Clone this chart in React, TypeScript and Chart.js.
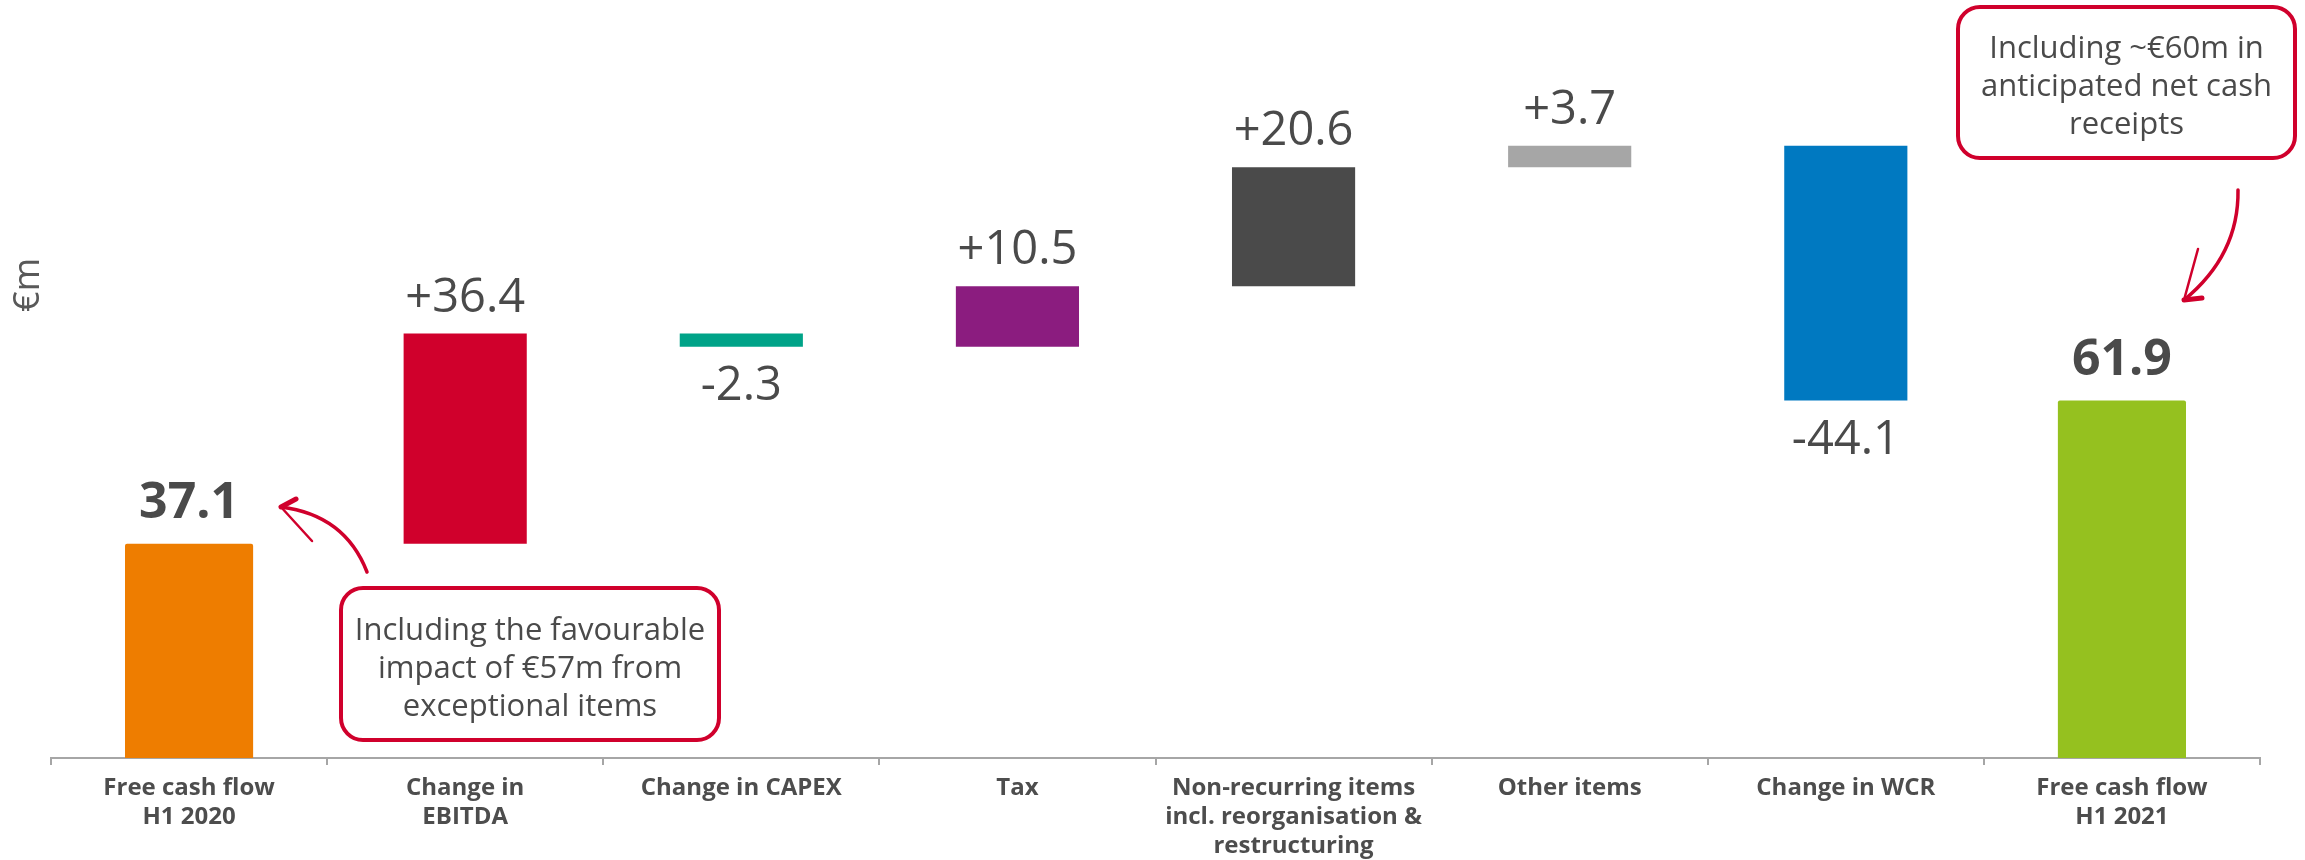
import React, { useEffect, useRef } from "react";
import { Chart, registerables } from "chart.js";

Chart.register(...registerables);

// ---------- data ----------
const categories: (string | string[])[] = [
  ["Free cash flow", "H1 2020"],
  ["Change in", "EBITDA"],
  "Change in CAPEX",
  "Tax",
  ["Non-recurring items", "incl. reorganisation &", "restructuring"],
  "Other items",
  "Change in WCR",
  ["Free cash flow", "H1 2021"],
];
const startTotal = 37.1;
const endTotal = 61.9;
const deltas = [36.4, -2.3, 10.5, 20.6, 3.7, -44.1];
const barColors = ["#EE7D00", "#D0002C", "#00A388", "#8B1C7F", "#4A4A4A", "#A6A6A6", "#0079C1", "#95C11F"];
const yAxisTitle = "€m";
const note1 = ["Including the favourable", "impact of €57m from", "exceptional items"];
const note2 = ["Including ~€60m in", "anticipated net cash", "receipts"];

// build datasets from the values
const totalsData: (number | null)[] = categories.map(() => null);
totalsData[0] = startTotal;
totalsData[categories.length - 1] = endTotal;
const deltaData: ([number, number] | null)[] = [null];
{
  let run = startTotal;
  for (const d of deltas) {
    const next = Math.round((run + d) * 10) / 10;
    deltaData.push([run, next]);
    run = next;
  }
}
deltaData.push(null);

const TEXT = "#4a4a4a";
const RED = "#D0002C";

const annotations = {
  id: "annotations",
  afterDatasetsDraw(chart: any) {
    const ctx = chart.ctx as CanvasRenderingContext2D;
    ctx.save();
    // totals labels
    const m0 = chart.getDatasetMeta(0);
    ctx.fillStyle = TEXT;
    ctx.textAlign = "center";
    ctx.textBaseline = "alphabetic";
    ctx.font = "bold 50px 'Open Sans'";
    totalsData.forEach((v, i) => {
      if (v == null) return;
      const el = m0.data[i];
      ctx.fillText(v.toFixed(1), el.x, el.y - 26);
    });
    // delta labels
    const m1 = chart.getDatasetMeta(1);
    ctx.font = "47px 'Open Sans'";
    deltas.forEach((d, k) => {
      const el = m1.data[k + 1];
      const top = Math.min(el.y, el.base);
      const bottom = Math.max(el.y, el.base);
      const txt = (d > 0 ? "+" : "") + d.toFixed(1);
      if (d > 0) ctx.fillText(txt, el.x, top - 22);
      else ctx.fillText(txt, el.x, bottom + 19 + 34);
    });

    // y axis title
    ctx.save();
    ctx.translate(29, 285);
    ctx.rotate(-Math.PI / 2);
    ctx.font = "36px 'Open Sans'";
    ctx.fillStyle = "#595959";
    ctx.textBaseline = "middle";
    ctx.fillText(yAxisTitle, 0, 0);
    ctx.restore();

    // note boxes
    const drawBox = (x: number, y: number, w: number, h: number, lines: string[], baseline0: number) => {
      ctx.beginPath();
      ctx.roundRect(x, y, w, h, 22);
      ctx.fillStyle = "#ffffff";
      ctx.fill();
      ctx.lineWidth = 4;
      ctx.strokeStyle = RED;
      ctx.stroke();
      ctx.fillStyle = TEXT;
      ctx.font = "31px 'Open Sans'";
      ctx.textAlign = "center";
      ctx.textBaseline = "alphabetic";
      lines.forEach((l, i) => ctx.fillText(l, x + w / 2, baseline0 + i * 38));
    };
    drawBox(341, 588, 378, 152, note1, 640);
    drawBox(1958, 7, 337, 151, note2, 58);

    // arrows
    ctx.strokeStyle = RED;
    ctx.lineCap = "round";
    ctx.lineWidth = 3.5;
    ctx.beginPath();
    ctx.moveTo(367, 572);
    ctx.quadraticCurveTo(345, 515, 281, 507);
    ctx.stroke();
    ctx.lineWidth = 5;
    ctx.beginPath();
    ctx.moveTo(281, 507);
    ctx.lineTo(296, 499);
    ctx.stroke();
    ctx.lineWidth = 2.5;
    ctx.beginPath();
    ctx.moveTo(281, 507);
    ctx.lineTo(312, 541);
    ctx.stroke();

    ctx.lineWidth = 3.5;
    ctx.beginPath();
    ctx.moveTo(2238, 190);
    ctx.quadraticCurveTo(2239, 255, 2184, 300);
    ctx.stroke();
    ctx.lineWidth = 2.5;
    ctx.beginPath();
    ctx.moveTo(2184, 300);
    ctx.lineTo(2198, 249);
    ctx.stroke();
    ctx.lineWidth = 5;
    ctx.beginPath();
    ctx.moveTo(2184, 300);
    ctx.lineTo(2202, 298);
    ctx.stroke();
    ctx.restore();
  },
};

export default function App() {
  const ref = useRef<HTMLCanvasElement | null>(null);
  useEffect(() => {
    document.body.style.margin = "0";
    const chart = new Chart(ref.current!, {
      type: "bar",
      data: {
        labels: categories,
        datasets: [
          {
            data: totalsData as any,
            backgroundColor: barColors,
            barPercentage: 0.464,
            categoryPercentage: 1,
            grouped: false,
            borderRadius: 2,
          } as any,
          {
            data: deltaData as any,
            backgroundColor: barColors,
            barPercentage: 0.446,
            categoryPercentage: 1,
            grouped: false,
          } as any,
        ],
      },
      options: {
        animation: false,
        responsive: false,
        layout: { padding: { left: 51, right: 45, top: 65, bottom: 0 } },
        plugins: { legend: { display: false }, tooltip: { enabled: false } },
        scales: {
          x: {
            grid: {
              display: true,
              drawOnChartArea: false,
              drawTicks: true,
              tickLength: 7,
              color: "#a6a6a6",
              lineWidth: 2,
              offset: true,
            },
            border: { display: true, color: "#a6a6a6", width: 2 },
            ticks: {
              font: { family: "'Open Sans'", weight: "bold", size: 24, lineHeight: 1.2 },
              color: "#4d4d4d",
              padding: 9,
              maxRotation: 0,
              autoSkip: false,
            },
            afterFit: (s: any) => {
              s.height = 102;
            },
          },
          y: { display: false, min: 0, max: 120 },
        },
      },
      plugins: [annotations],
    } as any);
    document.fonts?.ready.then(() => chart.update());
    return () => chart.destroy();
  }, []);
  return (
    <div style={{ width: 2305, height: 860 }}>
      <canvas ref={ref} width={2305} height={860} style={{ display: "block" }} />
    </div>
  );
}
